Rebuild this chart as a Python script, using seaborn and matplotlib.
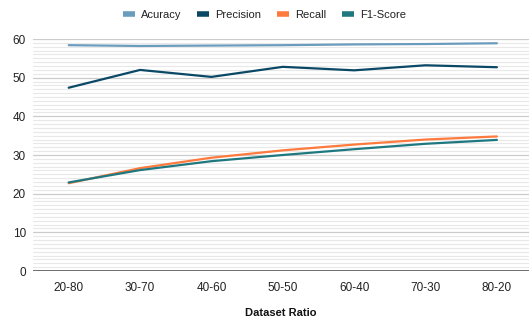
import matplotlib
matplotlib.use("Agg")
import matplotlib.pyplot as plt
from matplotlib.ticker import MultipleLocator
import pandas as pd
import seaborn as sns

ratios = ["20-80", "30-70", "40-60", "50-50", "60-40", "70-30", "80-20"]
accuracy = [58.4, 58.2, 58.3, 58.4, 58.6, 58.7, 58.9]
precision = [47.4, 52.0, 50.2, 52.8, 51.9, 53.2, 52.7]
recall = [22.7, 26.6, 29.3, 31.2, 32.7, 34.0, 34.8]
f1_score = [22.9, 26.1, 28.4, 30.0, 31.5, 32.9, 33.9]

series_names = ["Acuracy", "Precision", "Recall", "F1-Score"]
colors = ["#6a9cbd", "#0b4866", "#ff7a3d", "#1f7880"]

df = pd.DataFrame({
    "ratio": ratios * 4,
    "pos": list(range(len(ratios))) * 4,
    "value": accuracy + precision + recall + f1_score,
    "metric": [n for n in series_names for _ in ratios],
})

sns.set_theme(style="white")
plt.rcParams["font.family"] = ["Liberation Sans", "DejaVu Sans"]

fig = plt.figure(figsize=(5.29, 3.23), dpi=100)
ax = fig.add_axes([33 / 529, 1 - 271 / 323, 1 - 33 / 529, (271 - 39) / 323])

sns.lineplot(data=df, x="pos", y="value", hue="metric", hue_order=series_names,
             palette=colors, linewidth=1.6, ax=ax, legend=False, zorder=3)

ax.set_xlim(-0.5, 6.45)
ax.set_ylim(0, 60)
ax.set_xticks(range(len(ratios)))
ax.set_xticklabels(ratios)
ax.yaxis.set_major_locator(MultipleLocator(10))
ax.yaxis.set_minor_locator(MultipleLocator(1))
ax.grid(axis="y", which="major", color="#cccccc", linewidth=0.9, zorder=0)
ax.grid(axis="y", which="minor", color="#e8e8e8", linewidth=0.8, zorder=0)
ax.grid(axis="x", visible=False)
ax.axhline(0, color="#555555", linewidth=1.2, zorder=2)
for s in ax.spines.values():
    s.set_visible(False)
ax.tick_params(axis="both", which="both", length=0, labelsize=8.5, colors="#222222")
ax.tick_params(axis="x", pad=8)
ax.tick_params(axis="y", pad=5)
ax.set_ylabel("")
ax.set_xlabel("Dataset Ratio", fontsize=8, fontweight="bold", color="#111111", labelpad=10)

handles = [plt.Line2D([], [], color=c, linewidth=4, solid_capstyle="butt") for c in colors]
fig.legend(handles, series_names, loc="center", bbox_to_anchor=(0.5, 1 - 15 / 323),
           ncol=4, frameon=False, fontsize=8, handlelength=1.1, handletextpad=0.55,
           columnspacing=1.4, labelcolor="#222222")

fig.savefig("out.png", dpi=100)
